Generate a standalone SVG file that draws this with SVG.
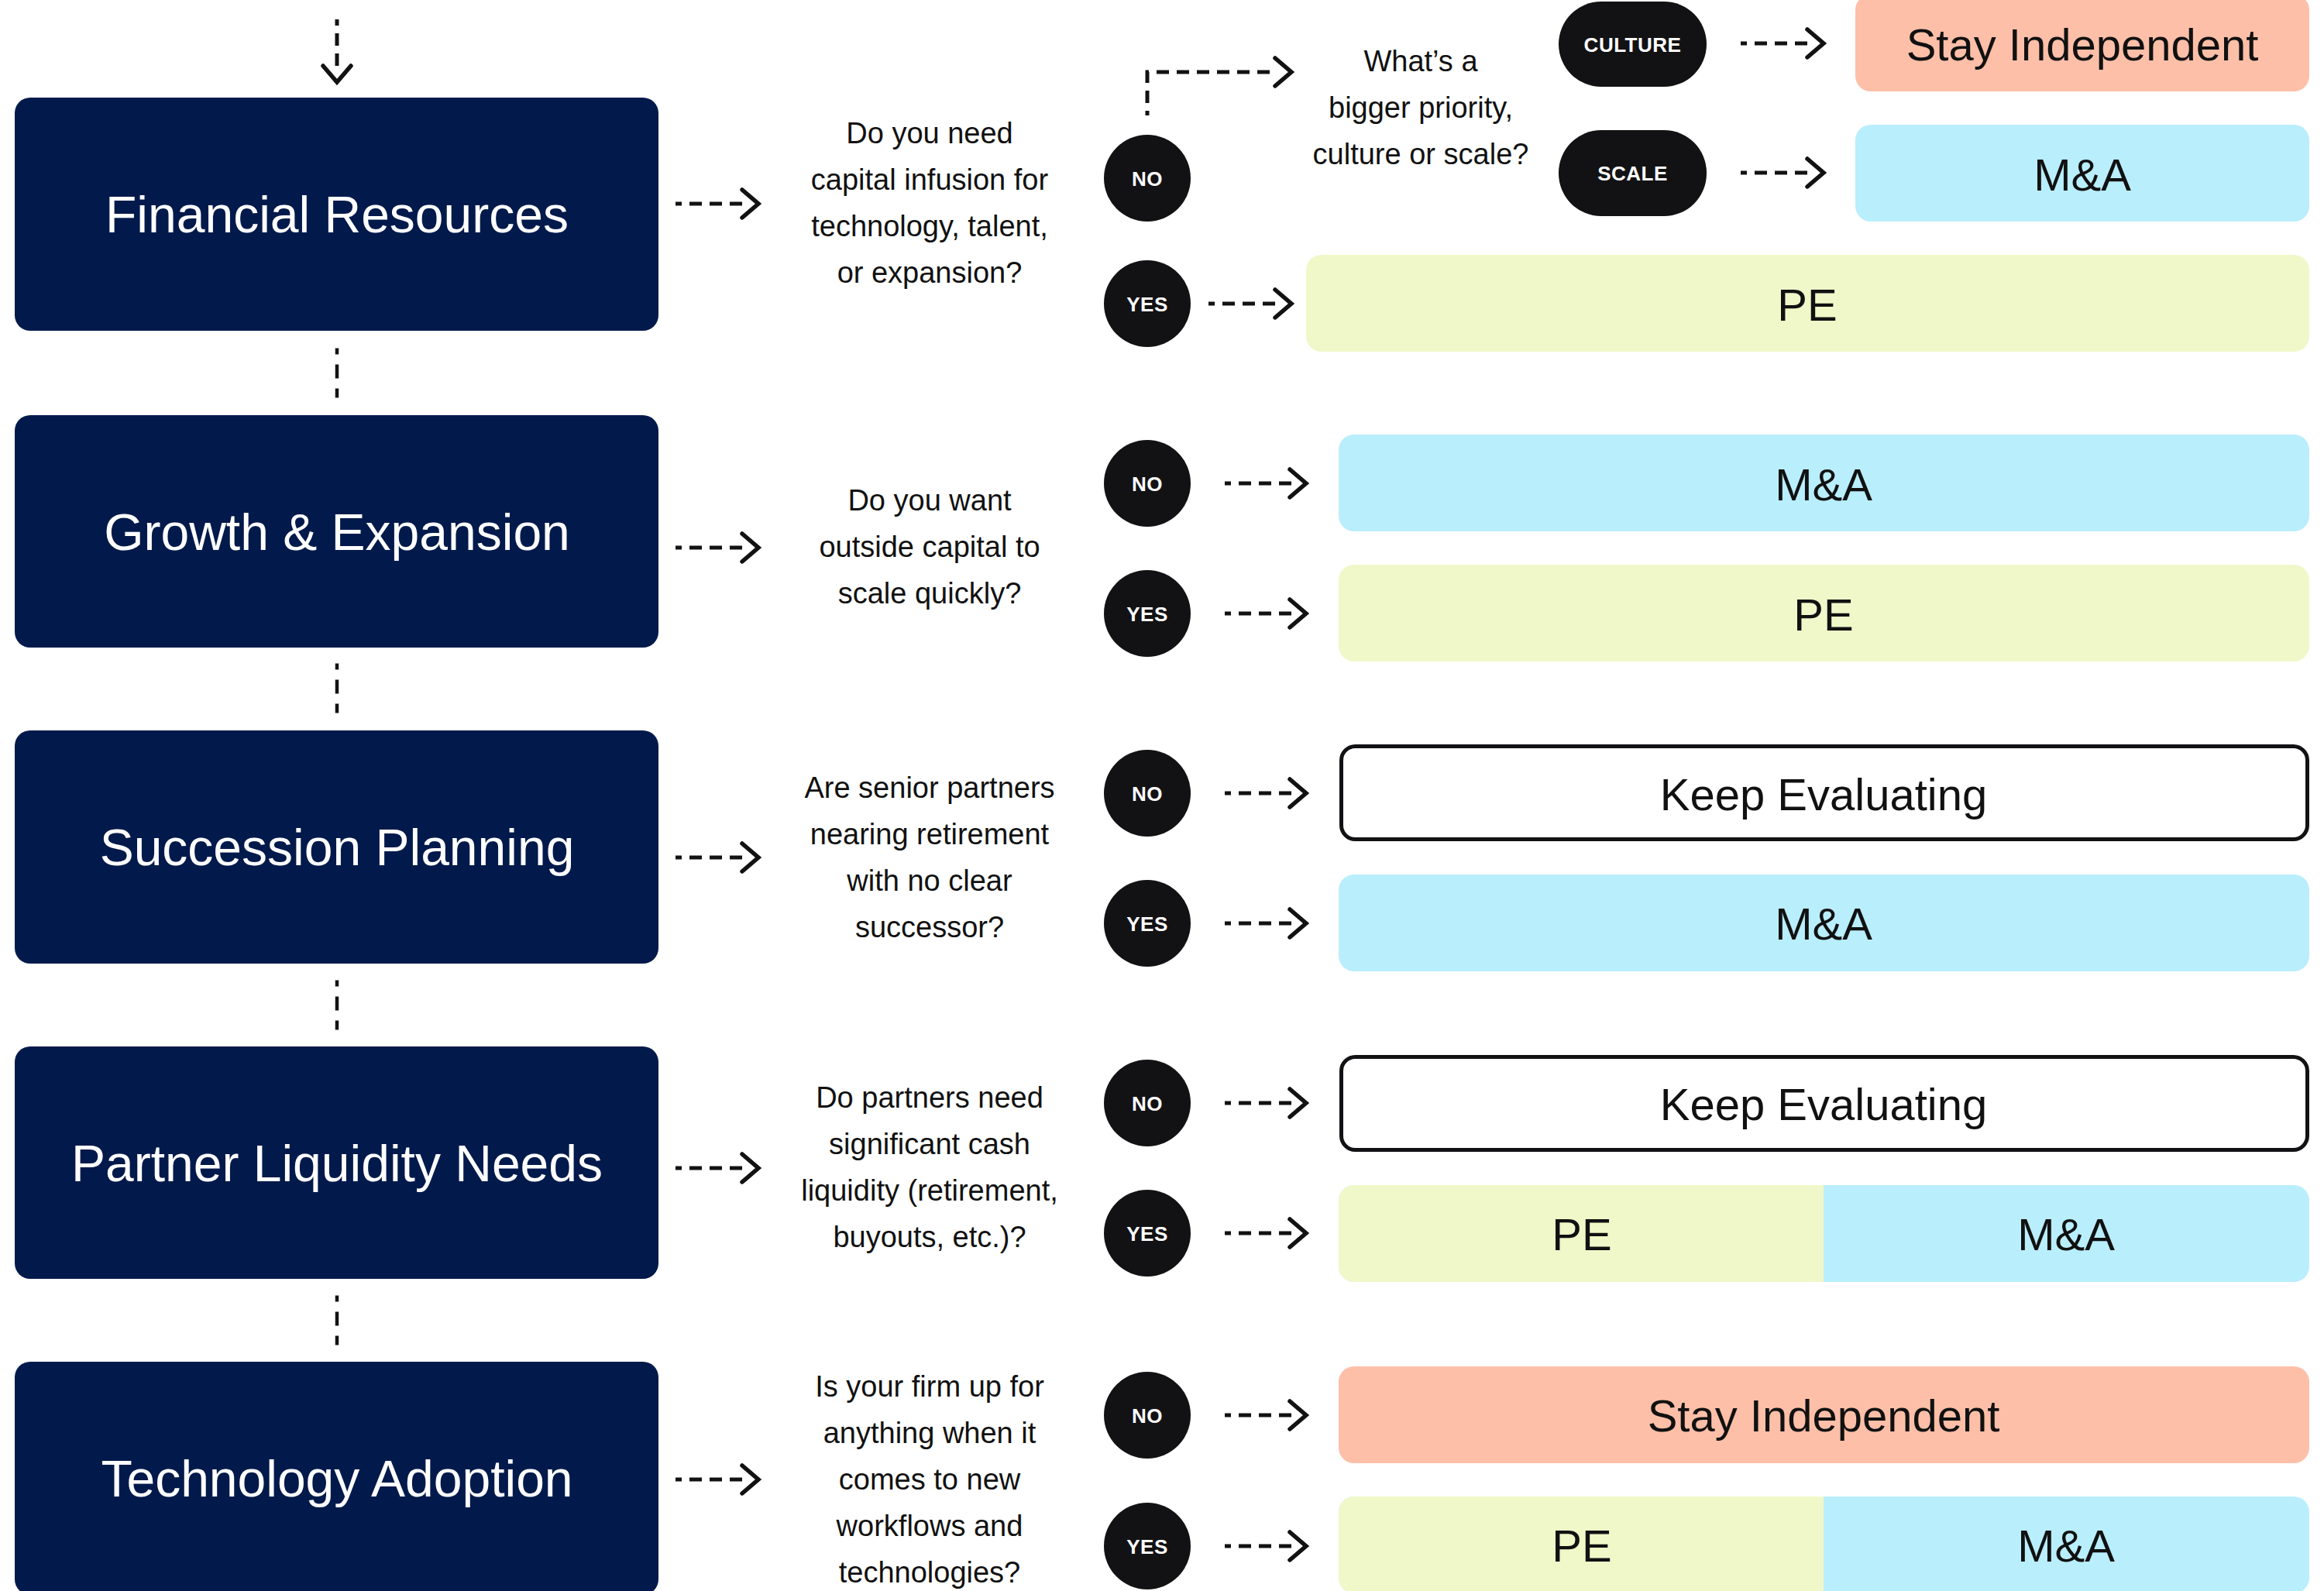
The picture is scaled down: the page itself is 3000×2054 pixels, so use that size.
<svg xmlns="http://www.w3.org/2000/svg" width="3000" height="2054" viewBox="0 0 3000 2054">
<style>
.node{fill:#021A4B}
.nt{font-family:"Liberation Sans",Arial,sans-serif;font-size:66px;fill:#fff;text-anchor:middle}
.q{font-family:"Liberation Sans",Arial,sans-serif;font-size:38px;fill:#111;text-anchor:middle}
.dot{fill:#121214}
.dt{font-family:"Liberation Sans",Arial,sans-serif;font-size:26px;font-weight:bold;fill:#fff;text-anchor:middle;letter-spacing:0.5px}
.ot{font-family:"Liberation Sans",Arial,sans-serif;font-size:58px;fill:#111;text-anchor:middle}
.si{fill:#FEBFA8}
.ma{fill:#B9EEFD}
.pe{fill:#F0F8C9}
.ke{fill:#fff;stroke:#121214;stroke-width:5}
.arr{fill:none;stroke:#121214;stroke-width:5;stroke-dasharray:16 10;stroke-dashoffset:8}
.vc{fill:none;stroke:#121214;stroke-width:4.5;stroke-dasharray:18 13;stroke-dashoffset:10}
</style>
<defs>
<marker id="chev" markerUnits="userSpaceOnUse" viewBox="-10 -25 40 50" markerWidth="40" markerHeight="50" refX="0" refY="0" orient="auto" overflow="visible">
<path d="M-2,-18 L19,0 L-2,18" fill="none" stroke="#121214" stroke-width="5.5" stroke-linecap="round" stroke-linejoin="miter"/>
</marker>
</defs>

<g id="connectors">
<path class="arr" d="M435,25 V87" marker-end="url(#chev)"/>
<path class="vc" d="M435,449.5 V513.5"/>
<path class="vc" d="M435,856.5 V920.5"/>
<path class="vc" d="M435,1265.5 V1329.5"/>
<path class="vc" d="M435,1672.5 V1736.5"/>
<path class="arr" d="M872,263 H960" marker-end="url(#chev)"/>
<path class="arr" d="M872,707 H960" marker-end="url(#chev)"/>
<path class="arr" d="M872,1107 H960" marker-end="url(#chev)"/>
<path class="arr" d="M872,1508 H960" marker-end="url(#chev)"/>
<path class="arr" d="M872,1910 H960" marker-end="url(#chev)"/>
<path class="arr" style="stroke-dashoffset:10" d="M1481,149 V93 H1648" marker-end="url(#chev)"/>
<path class="arr" d="M2247,56 H2335" marker-end="url(#chev)"/>
<path class="arr" d="M2247,223 H2335" marker-end="url(#chev)"/>
<path class="arr" d="M1560,392 H1648" marker-end="url(#chev)"/>
<path class="arr" d="M1581,624 H1667" marker-end="url(#chev)"/>
<path class="arr" d="M1581,792 H1667" marker-end="url(#chev)"/>
<path class="arr" d="M1581,1024 H1667" marker-end="url(#chev)"/>
<path class="arr" d="M1581,1192 H1667" marker-end="url(#chev)"/>
<path class="arr" d="M1581,1424 H1667" marker-end="url(#chev)"/>
<path class="arr" d="M1581,1592 H1667" marker-end="url(#chev)"/>
<path class="arr" d="M1581,1827 H1667" marker-end="url(#chev)"/>
<path class="arr" d="M1581,1996 H1667" marker-end="url(#chev)"/>
</g>

<g id="node-financial">
<rect class="node" x="19" y="126" width="831" height="301" rx="20"/>
<text class="nt" x="435" y="300">Financial Resources</text>
</g>
<g id="q-financial">
<text class="q" x="1200" y="185">Do you need</text>
<text class="q" x="1200" y="245">capital infusion for</text>
<text class="q" x="1200" y="305">technology, talent,</text>
<text class="q" x="1200" y="365">or expansion?</text>
</g>
<g id="fin-no"><circle class="dot" cx="1481" cy="230" r="56"/><text class="dt" x="1481" y="239.5">NO</text></g>
<g id="fin-yes"><circle class="dot" cx="1481" cy="392" r="56"/><text class="dt" x="1481" y="401.5">YES</text></g>
<g id="q-priority">
<text class="q" x="1834" y="92">What’s a</text>
<text class="q" x="1834" y="152">bigger priority,</text>
<text class="q" x="1834" y="212">culture or scale?</text>
</g>
<g id="pill-culture"><rect class="dot" x="2012" y="2" width="191" height="110" rx="55"/><text class="dt" x="2107.5" y="66.5">CULTURE</text></g>
<g id="pill-scale"><rect class="dot" x="2012" y="168" width="191" height="111" rx="55"/><text class="dt" x="2107.5" y="233">SCALE</text></g>
<g id="out-fin-stay"><rect class="si" x="2395" y="-7" width="586" height="125" rx="20"/><text class="ot" x="2688" y="78">Stay Independent</text></g>
<g id="out-fin-ma"><rect class="ma" x="2395" y="161" width="586" height="125" rx="20"/><text class="ot" x="2688" y="246">M&amp;A</text></g>
<g id="out-fin-pe"><rect class="pe" x="1686" y="329" width="1295" height="125" rx="20"/><text class="ot" x="2333" y="414">PE</text></g>

<g id="node-growth">
<rect class="node" x="19" y="536" width="831" height="300" rx="20"/>
<text class="nt" x="435" y="710">Growth &amp; Expansion</text>
</g>
<g id="q-growth">
<text class="q" x="1200" y="659">Do you want</text>
<text class="q" x="1200" y="719">outside capital to</text>
<text class="q" x="1200" y="779">scale quickly?</text>
</g>
<g id="gro-no"><circle class="dot" cx="1481" cy="624" r="56"/><text class="dt" x="1481" y="633.5">NO</text></g>
<g id="gro-yes"><circle class="dot" cx="1481" cy="792" r="56"/><text class="dt" x="1481" y="801.5">YES</text></g>
<g id="out-gro-ma"><rect class="ma" x="1728" y="561" width="1253" height="125" rx="20"/><text class="ot" x="2354" y="646">M&amp;A</text></g>
<g id="out-gro-pe"><rect class="pe" x="1728" y="729" width="1253" height="125" rx="20"/><text class="ot" x="2354" y="814">PE</text></g>

<g id="node-succession">
<rect class="node" x="19" y="943" width="831" height="301" rx="20"/>
<text class="nt" x="435" y="1117">Succession Planning</text>
</g>
<g id="q-succession">
<text class="q" x="1200" y="1030">Are senior partners</text>
<text class="q" x="1200" y="1090">nearing retirement</text>
<text class="q" x="1200" y="1150">with no clear</text>
<text class="q" x="1200" y="1210">successor?</text>
</g>
<g id="suc-no"><circle class="dot" cx="1481" cy="1024" r="56"/><text class="dt" x="1481" y="1033.5">NO</text></g>
<g id="suc-yes"><circle class="dot" cx="1481" cy="1192" r="56"/><text class="dt" x="1481" y="1201.5">YES</text></g>
<g id="out-suc-keep"><rect class="ke" x="1731.5" y="963.5" width="1247" height="120" rx="18"/><text class="ot" x="2354" y="1046">Keep Evaluating</text></g>
<g id="out-suc-ma"><rect class="ma" x="1728" y="1129" width="1253" height="125" rx="20"/><text class="ot" x="2354" y="1213">M&amp;A</text></g>

<g id="node-liquidity">
<rect class="node" x="19" y="1351" width="831" height="300" rx="20"/>
<text class="nt" x="435" y="1525">Partner Liquidity Needs</text>
</g>
<g id="q-liquidity">
<text class="q" x="1200" y="1430">Do partners need</text>
<text class="q" x="1200" y="1490">significant cash</text>
<text class="q" x="1200" y="1550">liquidity (retirement,</text>
<text class="q" x="1200" y="1610">buyouts, etc.)?</text>
</g>
<g id="liq-no"><circle class="dot" cx="1481" cy="1424" r="56"/><text class="dt" x="1481" y="1433.5">NO</text></g>
<g id="liq-yes"><circle class="dot" cx="1481" cy="1592" r="56"/><text class="dt" x="1481" y="1601.5">YES</text></g>
<g id="out-liq-keep"><rect class="ke" x="1731.5" y="1364.5" width="1247" height="120" rx="18"/><text class="ot" x="2354" y="1446">Keep Evaluating</text></g>
<g id="out-liq-split">
<rect class="ma" x="1728" y="1530" width="1253" height="125" rx="20"/>
<path class="pe" d="M2354,1530 H1748 A20,20 0 0 0 1728,1550 V1635 A20,20 0 0 0 1748,1655 H2354 Z"/>
<text class="ot" x="2042" y="1614">PE</text>
<text class="ot" x="2667" y="1614">M&amp;A</text>
</g>

<g id="node-technology">
<rect class="node" x="19" y="1758" width="831" height="301" rx="20"/>
<text class="nt" x="435" y="1932">Technology Adoption</text>
</g>
<g id="q-technology">
<text class="q" x="1200" y="1803">Is your firm up for</text>
<text class="q" x="1200" y="1863">anything when it</text>
<text class="q" x="1200" y="1923">comes to new</text>
<text class="q" x="1200" y="1983">workflows and</text>
<text class="q" x="1200" y="2043">technologies?</text>
</g>
<g id="tec-no"><circle class="dot" cx="1481" cy="1827" r="56"/><text class="dt" x="1481" y="1836.5">NO</text></g>
<g id="tec-yes"><circle class="dot" cx="1481" cy="1996" r="56"/><text class="dt" x="1481" y="2005.5">YES</text></g>
<g id="out-tec-stay"><rect class="si" x="1728" y="1764" width="1253" height="125" rx="20"/><text class="ot" x="2354" y="1848">Stay Independent</text></g>
<g id="out-tec-split">
<rect class="ma" x="1728" y="1932" width="1253" height="125" rx="20"/>
<path class="pe" d="M2354,1932 H1748 A20,20 0 0 0 1728,1952 V2037 A20,20 0 0 0 1748,2057 H2354 Z"/>
<text class="ot" x="2042" y="2016">PE</text>
<text class="ot" x="2667" y="2016">M&amp;A</text>
</g>
</svg>
